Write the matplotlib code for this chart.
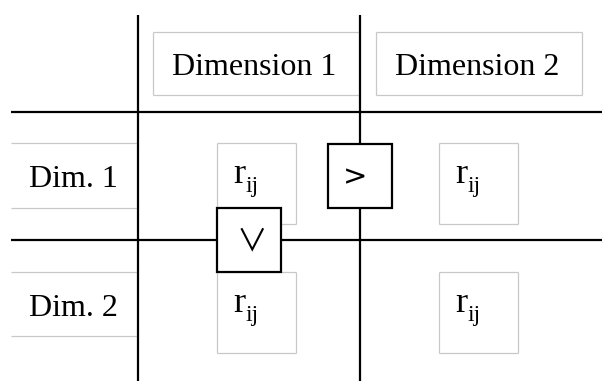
#!/usr/bin/env python3
"""
Comparison grid diagram: dimensions with r_ij cells and order relations
"""

import matplotlib.pyplot as plt
from matplotlib.patches import Rectangle

# labels
col_labels = ["Dimension 1", "Dimension 2"]
row_labels = ["Dim. 1", "Dim. 2"]
cell_main, cell_sub = "r", "ij"
relations = [">", "\u2228"]  # between columns, between rows

SERIF = "Liberation Serif"
GRAY = "#c8c8c8"


def light_box(ax, x0, y0, x1, y1, sides="lrtb"):
    """Thin gray frame, only the requested sides."""
    segs = {
        "l": ([x0, x0], [y0, y1]),
        "r": ([x1, x1], [y0, y1]),
        "t": ([x0, x1], [y0, y0]),
        "b": ([x0, x1], [y1, y1]),
    }
    for s in sides:
        xs, ys = segs[s]
        ax.plot(xs, ys, color=GRAY, lw=0.9, solid_capstyle='butt', zorder=1)


def main():
    fig = plt.figure(figsize=(6.02, 3.81), dpi=100)
    ax = fig.add_axes([0, 0, 1, 1])
    ax.set_xlim(0, 602)
    ax.set_ylim(381, 0)
    ax.axis('off')

    # header boxes
    light_box(ax, 153, 32, 360, 95, "ltb")
    light_box(ax, 376, 32, 582, 95)
    ax.text(254.5, 64, col_labels[0], family=SERIF, fontsize=23,
            ha='center', va='center_baseline')
    ax.text(477, 64, col_labels[1], family=SERIF, fontsize=23,
            ha='center', va='center_baseline')

    # row label boxes (top and bottom only)
    light_box(ax, 11, 143, 138, 208, "tb")
    light_box(ax, 11, 272, 138, 336, "tb")
    ax.text(73, 176, row_labels[0], family=SERIF, fontsize=23,
            ha='center', va='center_baseline')
    ax.text(73, 305, row_labels[1], family=SERIF, fontsize=23,
            ha='center', va='center_baseline')

    # r_ij cells
    cells = [(217, 143), (439, 143), (217, 272), (439, 272)]
    for (cx, cy) in cells:
        light_box(ax, cx, cy, cx + 79, cy + 81)
        ax.text(cx + 16, cy + 40, cell_main, family=SERIF, fontsize=26,
                ha='left', va='baseline')
        ax.text(cx + 29, cy + 49, cell_sub, family=SERIF, fontsize=17,
                ha='left', va='baseline')

    # main black grid lines
    blk = dict(color='black', lw=1.6, solid_capstyle='butt', zorder=3)
    ax.plot([11, 602], [112, 112], **blk)
    ax.plot([11, 217], [240, 240], **blk)
    ax.plot([281, 602], [240, 240], **blk)
    ax.plot([138, 138], [15, 381], **blk)
    ax.plot([360, 360], [15, 144], **blk)
    ax.plot([360, 360], [208, 381], **blk)

    # relation boxes
    ax.add_patch(Rectangle((328, 144), 64, 64, fill=True, facecolor='white',
                           edgecolor='black', lw=1.6, zorder=4))
    ax.text(355, 177, relations[0], family='DejaVu Sans', fontsize=21,
            ha='center', va='center', zorder=5)
    ax.add_patch(Rectangle((217, 208), 64, 64, fill=True, facecolor='white',
                           edgecolor='black', lw=1.6, zorder=4))
    ax.text(252, 242, relations[1], family=['Noto Sans CJK SC', 'DejaVu Sans'],
            fontsize=22, ha='center', va='center', zorder=5)

    plt.savefig("out.png", dpi=100)


if __name__ == "__main__":
    main()
